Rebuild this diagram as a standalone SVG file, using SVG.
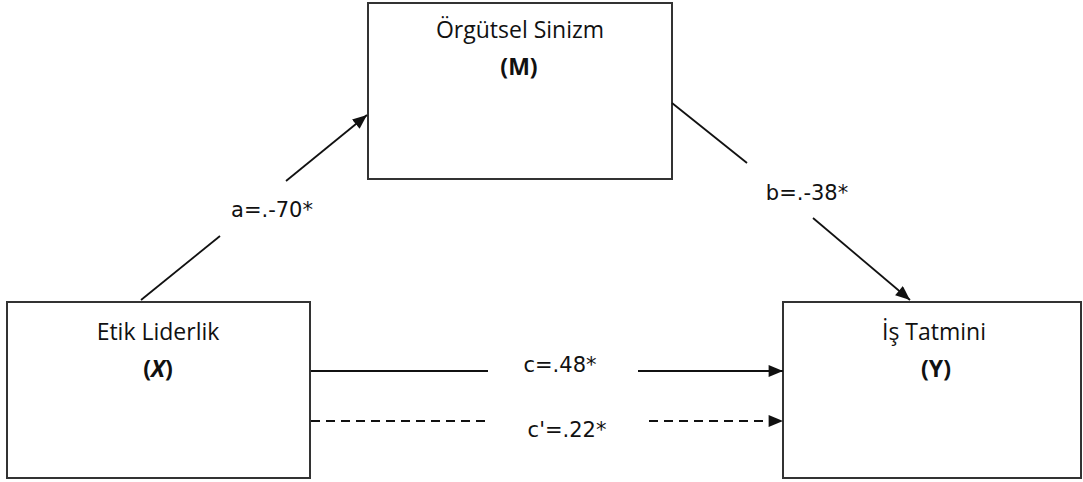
<svg xmlns="http://www.w3.org/2000/svg" width="1083" height="482" viewBox="0 0 1083 482">
<style>
.box{fill:#fff;stroke:#333;stroke-width:2}
.t{font-family:"Open Sans","Liberation Sans",sans-serif;font-size:23px;fill:#111;text-anchor:middle}
.b{font-weight:bold}
.lbl{font-family:"DejaVu Sans","Liberation Sans",sans-serif;font-size:21px;fill:#111;text-anchor:middle}
.ln{stroke:#111;stroke-width:1.8;fill:none}
.dash{stroke-dasharray:9 6}
</style>
<defs>
<marker id="ah" viewBox="0 0 12 10" refX="12" refY="5" markerWidth="15" markerHeight="12" markerUnits="userSpaceOnUse" orient="auto">
<path d="M0,0 L12,5 L0,10 Z" fill="#111"/>
</marker>
</defs>
<rect width="1083" height="482" fill="#fff"/>
<g id="node-M">
<rect class="box" x="368" y="3" width="304" height="176"/>
<text class="t" x="520" y="38">Örgütsel Sinizm</text>
<text class="t b" x="519" y="75">(M)</text>
</g>
<g id="node-X">
<rect class="box" x="7" y="302" width="303" height="176"/>
<text class="t" x="158" y="340">Etik Liderlik</text>
<text class="t b" x="158" y="377">(<tspan font-style="italic">X</tspan>)</text>
</g>
<g id="node-Y">
<rect class="box" x="783" y="302" width="298" height="176"/>
<text class="t" x="934" y="340">İş Tatmini</text>
<text class="t b" x="936" y="377">(Y)</text>
</g>
<g id="connectors">
<line class="ln" x1="141" y1="300" x2="220" y2="236"/>
<line class="ln" x1="286" y1="181" x2="367" y2="115" marker-end="url(#ah)"/>
<text class="lbl" x="272" y="217">a=.-70*</text>
<line class="ln" x1="672" y1="103" x2="747" y2="163"/>
<line class="ln" x1="813" y1="218" x2="910" y2="300" marker-end="url(#ah)"/>
<text class="lbl" x="807" y="200">b=.-38*</text>
<line class="ln" x1="311" y1="371" x2="488" y2="371"/>
<line class="ln" x1="638" y1="371" x2="783" y2="371" marker-end="url(#ah)"/>
<text class="lbl" x="560" y="372">c=.48*</text>
<line class="ln dash" x1="311" y1="421" x2="488" y2="421"/>
<line class="ln dash" x1="649" y1="421" x2="783" y2="421" marker-end="url(#ah)"/>
<text class="lbl" x="567" y="437">c'=.22*</text>
</g>
</svg>
